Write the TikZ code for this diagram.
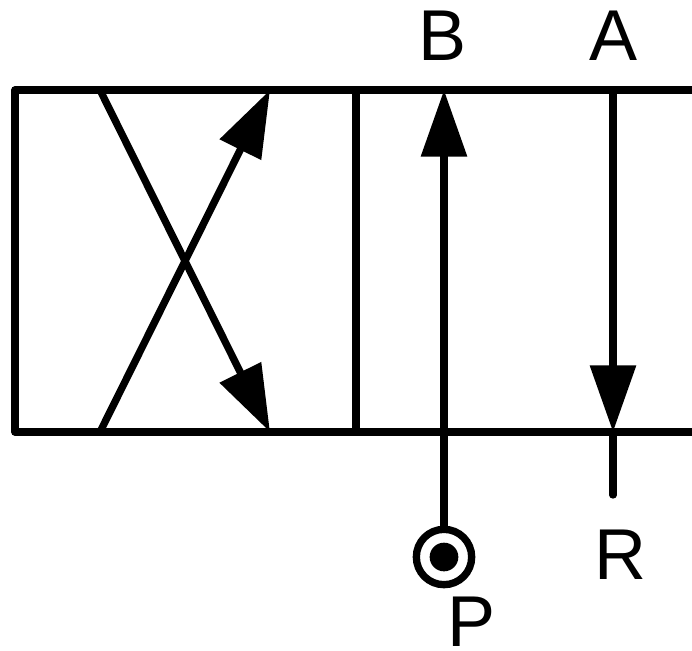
\documentclass[tikz,border=0pt]{standalone}
\usepackage{fontspec}
\setmainfont{Liberation Sans}
\usetikzlibrary{arrows.meta}
\tikzset{
  valveline/.style={line width=5.5pt,line cap=round,line join=round},
  flowline/.style={valveline,line cap=butt,-{Triangle[length=50pt,width=33.5pt]}},
  portlabel/.style={inner sep=0pt,font=\fontsize{54}{54}\selectfont},
}

\begin{document}
\begin{tikzpicture}[x=0.75pt,y=0.75pt,yscale=-1,xscale=1]
\useasboundingbox (0,0) rectangle (692,650);

%Valve body
\coordinate (topleft) at (15,90);
\coordinate (botleft) at (15,432);
\coordinate (topright) at (692,90);
\coordinate (botright) at (692,432);
\coordinate (divtop) at (356,90);
\coordinate (divbot) at (356,432);
\draw [valveline,line cap=butt]  (topright) -- (topleft) -- (botleft) -- (botright) ;
\draw [valveline]  (divtop) -- (divbot) ;

%Crossed flow
\coordinate (crossa) at (100,90);
\coordinate (crossb) at (270,432);
\coordinate (crossc) at (100,432);
\coordinate (crossd) at (270,90);
\draw [flowline]  (crossa) -- (crossb) ;
\draw [flowline]  (crossc) -- (crossd) ;

%Pressure port
\node (portp) [circle,draw,line width=5.5pt,fill=white,minimum size=41.5pt,inner sep=0pt] at (444,557) {};
\node (portdot) [circle,fill=black,minimum size=21.5pt,inner sep=0pt] at (444,557) {};
\coordinate (portb) at (444,90);
\draw [flowline]  (portp) -- (portb) ;

%Return line
\coordinate (porta) at (613,90);
\coordinate (portainner) at (613,432);
\coordinate (portr) at (613,495);
\draw [flowline]  (porta) -- (portainner) ;
\draw [valveline]  (portainner) -- (portr) ;

% Text Node
\node (labelb) [portlabel] at (443,36) {B};
% Text Node
\node (labela) [portlabel] at (614,36) {A};
% Text Node
\node (labelr) [portlabel] at (620.5,555) {R};
% Text Node
\node (labelp) [portlabel] at (472,622) {P};

\end{tikzpicture}
\end{document}
